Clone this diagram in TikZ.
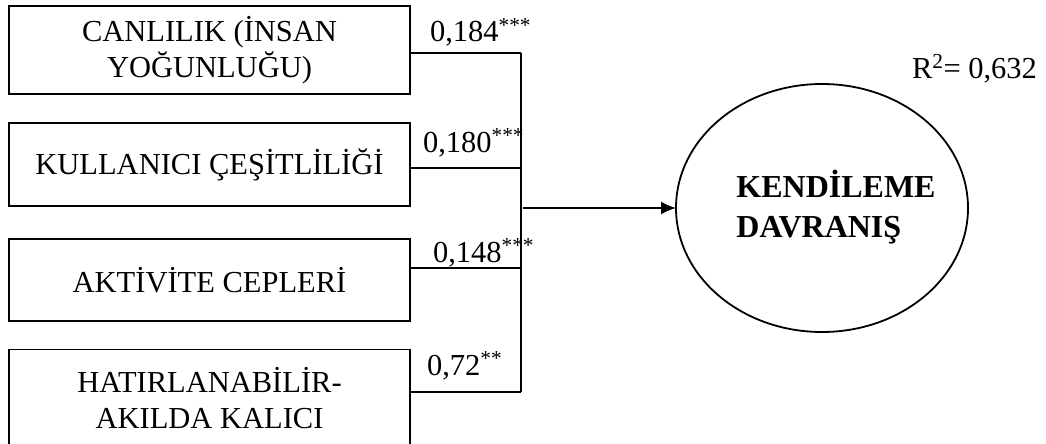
\documentclass[tikz,border=0pt]{standalone}
\usepackage{fontspec}
\setmainfont{Liberation Serif}
\usetikzlibrary{arrows.meta,shapes.geometric}
\begin{document}
\begin{tikzpicture}[x=1pt,y=-1pt,
  every node/.style={inner sep=0pt,outer sep=0pt},
  box/.style={draw,line width=1.8pt,minimum width=401pt,align=center,
    font=\fontsize{30.5}{36.5}\selectfont},
  lbl/.style={anchor=base west,font=\fontsize{30.5}{36}\selectfont},
  conn/.style={line width=1.8pt},
]
\useasboundingbox (0,0) rectangle (1046,444);
\node[box,minimum height=88pt] (b1) at (209.5,50) {CANLILIK (İNSAN\\YOĞUNLUĞU)};
\node[box,minimum height=83pt] (b2) at (209.5,164.5) {KULLANICI ÇEŞİTLİLİĞİ};
\node[box,minimum height=82pt] (b3) at (209.5,280) {AKTİVİTE CEPLERİ};
\node[box,minimum height=97pt] (b4) at (209.5,398) {HATIRLANABİLİR-\\AKILDA KALICI};
\node[draw,ellipse,line width=1.8pt,minimum width=292pt,minimum height=248pt] (kd) at (822,208) {};
\node[align=left,font=\fontsize{32}{40}\selectfont\bfseries] (kdt) at (836,207) {KENDİLEME\\DAVRANIŞ};
\coordinate (j1) at (521,53);
\coordinate (j2) at (521,168);
\coordinate (j3) at (521,268);
\coordinate (j4) at (521,392);
\coordinate (a0) at (523,208);
\draw[conn] (b1.east |- j1) -- (j1);
\draw[conn] (b2.east |- j2) -- (j2);
\draw[conn] (b3.east |- j3) -- (j3);
\draw[conn] (b4.east |- j4) -- (j4);
\draw[conn] (j1) -- (j4);
\draw[conn,-{Latex[length=15pt,width=13pt]}] (a0) -- (kd.west);
\node[lbl] (l1) at (430,42) {0,184\textsuperscript{***}};
\node[lbl] (l2) at (423,152) {0,180\textsuperscript{***}};
\node[lbl] (l3) at (433,262) {0,148\textsuperscript{***}};
\node[lbl] (l4) at (427,375) {0,72\textsuperscript{**}};
\node[lbl] (r2) at (912,78) {R\textsuperscript{2}= 0,632};
\end{tikzpicture}
\end{document}
